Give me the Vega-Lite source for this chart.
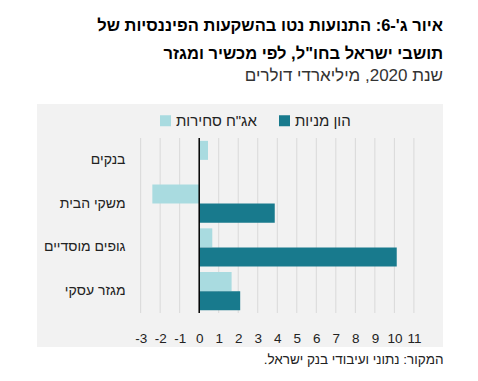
{
  "$schema": "https://vega.github.io/schema/vega-lite/v6.json",
  "width": 406,
  "height": 243,
  "autosize": {"type": "none"},
  "padding": {"left": 37, "top": 104, "right": 35, "bottom": 34},
  "background": "#ffffff",
  "title": {
    "text": ["איור ג'-6: התנועות נטו בהשקעות הפיננסיות של", "תושבי ישראל בחו\"ל, לפי מכשיר ומגזר"],
    "subtitle": "שנת 2020, מיליארדי דולרים",
    "anchor": "end",
    "align": "right",
    "frame": "group",
    "offset": 20,
    "font": "Liberation Sans",
    "fontSize": 16.5,
    "fontWeight": "bold",
    "color": "#000000",
    "lineHeight": 28,
    "subtitleFont": "Liberation Sans",
    "subtitleFontSize": 17,
    "subtitleColor": "#333333",
    "subtitlePadding": 6
  },
  "config": {
    "view": {"fill": "#f2f2f2", "stroke": null},
    "font": "Liberation Sans"
  },
  "layer": [
    {
      "data": {"values": [
        {"v": -3}, {"v": -2}, {"v": -1}, {"v": 1}, {"v": 2}, {"v": 3}, {"v": 4}, {"v": 5},
        {"v": 6}, {"v": 7}, {"v": 8}, {"v": 9}, {"v": 10}, {"v": 11}
      ]},
      "mark": {"type": "rule", "color": "#d9d9d9", "strokeWidth": 1},
      "encoding": {
        "x": {
          "field": "v",
          "type": "quantitative",
          "scale": {"domain": [-8.31, 12.49], "nice": false, "zero": false},
          "axis": {
            "title": "המקור: נתוני ועיבודי בנק ישראל.\u200f",
            "titleAnchor": "end",
            "titleAlign": "right",
            "titleFontSize": 13.5,
            "titleFontWeight": "normal",
            "titleColor": "#222222",
            "titleFont": "Liberation Sans",
            "titlePadding": 5,
            "values": [-3, -2, -1, 0, 1, 2, 3, 4, 5, 6, 7, 8, 9, 10, 11],
            "tickCount": 30,
            "format": "d",
            "labelExpr": "replace(datum.label, '\u2212', '-')",
            "grid": false,
            "domain": false,
            "ticks": false,
            "tickSize": 0,
            "labelPadding": -16,
            "labelBaseline": "top",
            "labelFontSize": 13.5,
            "labelColor": "#222222",
            "labelFont": "Liberation Sans",
            "labelFlush": false,
            "labelOverlap": false
          }
        },
        "y": {
          "datum": "בנקים",
          "type": "nominal",
          "bandPosition": 0,
          "scale": {"domain": ["בנקים", "משקי הבית", "גופים מוסדיים", "מגזר עסקי"], "paddingInner": 0, "paddingOuter": 0.777},
          "axis": {
            "title": null,
            "domain": false,
            "ticks": false,
            "tickSize": 0,
            "labelPadding": -88,
            "labelAlign": "right",
            "labelFontSize": 14,
            "labelColor": "#222222",
            "labelFont": "Liberation Sans"
          }
        },
        "y2": {"datum": "מגזר עסקי", "bandPosition": 1}
      }
    },
    {
      "data": {"values": [
        {"cat": "בנקים", "series": "אג\"ח סחירות", "value": 0.45},
        {"cat": "בנקים", "series": "הון מניות", "value": 0},
        {"cat": "משקי הבית", "series": "אג\"ח סחירות", "value": -2.4},
        {"cat": "משקי הבית", "series": "הון מניות", "value": 3.87},
        {"cat": "גופים מוסדיים", "series": "אג\"ח סחירות", "value": 0.67},
        {"cat": "גופים מוסדיים", "series": "הון מניות", "value": 10.12},
        {"cat": "מגזר עסקי", "series": "אג\"ח סחירות", "value": 1.66},
        {"cat": "מגזר עסקי", "series": "הון מניות", "value": 2.1}
      ]},
      "mark": {"type": "bar"},
      "encoding": {
        "y": {"field": "cat", "type": "nominal", "sort": null},
        "yOffset": {
          "field": "series",
          "type": "nominal",
          "scale": {"domain": ["אג\"ח סחירות", "הון מניות"], "paddingInner": 0, "paddingOuter": 0.15}
        },
        "x": {"field": "value", "type": "quantitative", "stack": null},
        "x2": {"datum": 0},
        "color": {
          "field": "series",
          "type": "nominal",
          "scale": {"domain": ["אג\"ח סחירות", "הון מניות"], "range": ["#a9dbe0", "#187a8d"]},
          "legend": {
            "orient": "none",
            "legendX": 121,
            "legendY": 9,
            "direction": "horizontal",
            "title": null,
            "symbolType": "square",
            "symbolSize": 121,
            "symbolStrokeWidth": 0,
            "labelFontSize": 15,
            "labelFont": "Liberation Sans",
            "labelColor": "#222222",
            "labelOffset": 3,
            "columnPadding": 20
          }
        }
      }
    },
    {
      "data": {"values": [{"v": 0}]},
      "mark": {"type": "rule", "color": "#000000", "strokeWidth": 1.5},
      "encoding": {
        "x": {"field": "v", "type": "quantitative"},
        "y": {"datum": "בנקים", "type": "nominal", "bandPosition": 0},
        "y2": {"datum": "מגזר עסקי", "bandPosition": 1}
      }
    }
  ]
}
